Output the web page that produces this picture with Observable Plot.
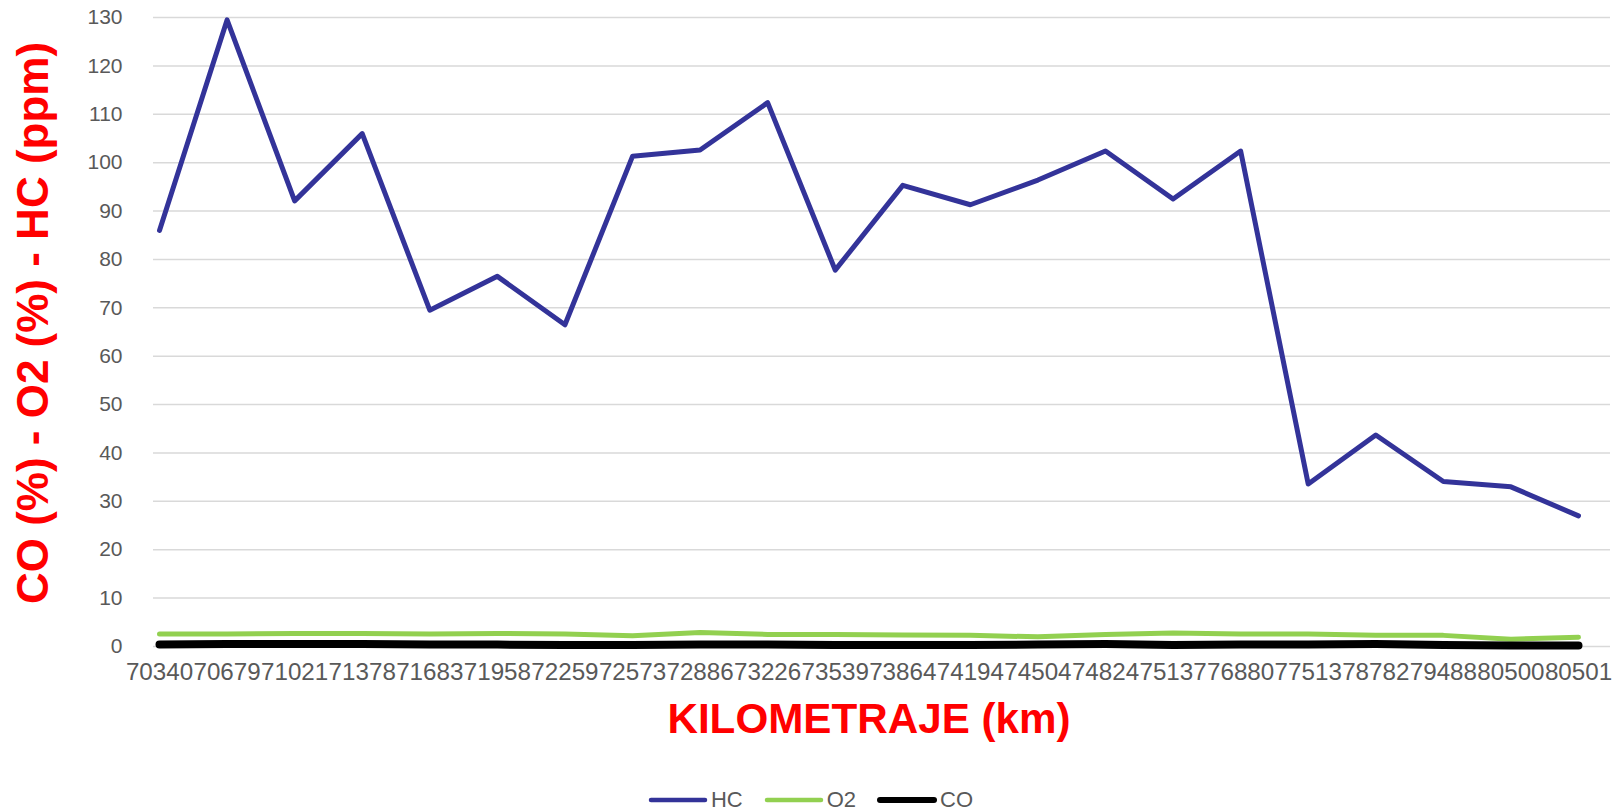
<!DOCTYPE html>
<html>
<head>
<meta charset="utf-8">
<script src="https://cdn.jsdelivr.net/npm/d3@7"></script>
<script src="https://cdn.jsdelivr.net/npm/@observablehq/plot@0.6"></script>
<style>
  html, body { margin: 0; padding: 0; background: #fff; }
  body { width: 1620px; height: 812px; position: relative; overflow: hidden; font-family: "Liberation Sans", Arial, sans-serif; }
  #legend { position: absolute; left: 0; top: 788px; width: 1620px; height: 24px; display: flex; justify-content: center; align-items: center; font-size: 22px; color: #595959; }
  .item { display: flex; align-items: center; margin: 0 10px; }
  .item svg { margin-right: 2px; }
</style>
</head>
<body>
<div id="chart"></div>
<div id="legend"></div>
<script>
const kms = ["70340","70679","71021","71378","71683","71958","72259","72573","72886","73226","73539","73864","74194","74504","74824","75137","76880","77513","78782","79488","80500","80501"];
const hcValues = [86.0,129.5,92.1,106.0,69.5,76.5,66.5,101.3,102.6,112.4,77.8,95.3,91.3,96.4,102.4,92.5,102.4,33.6,43.7,34.1,33.0,27.0];
const o2Values = [2.6,2.6,2.7,2.7,2.6,2.7,2.6,2.2,2.9,2.5,2.5,2.4,2.3,2.0,2.5,2.8,2.6,2.6,2.3,2.3,1.5,1.9];
const coValues = [0.4,0.5,0.5,0.5,0.4,0.4,0.3,0.3,0.4,0.4,0.3,0.3,0.3,0.4,0.5,0.3,0.4,0.4,0.5,0.3,0.2,0.2];
const yTicks = [0,10,20,30,40,50,60,70,80,90,100,110,120,130];
const seriesNames = ["HC","O2","CO"];
const seriesColors = ["#333399","#92D050","#000000"];
const seriesWidths = [5,5,8];
const xTitle = "KILOMETRAJE (km)";
const yTitle = "CO (%) - O2 (%) - HC (ppm)";

const rows = kms.map((k,i) => ({km:k, HC:hcValues[i], O2:o2Values[i], CO:coValues[i]}));

const lineOpts = {strokeLinejoin:"round", strokeLinecap:"round"};

const chart = Plot.plot({
  width: 1620,
  height: 760,
  marginLeft: 153,
  marginRight: 10,
  marginTop: 17,
  marginBottom: 114,
  style: {fontFamily: "'Liberation Sans', Arial, sans-serif", background: "#fff", color: "#595959"},
  x: {type: "point", domain: kms, padding: 0, round: false, insetLeft: 6, insetRight: 32, label: null},
  y: {domain: [0,130], label: null},
  marks: [
    Plot.ruleY(yTicks, {stroke: "#d9d9d9", strokeWidth: 1.5}),
    Plot.axisY(yTicks, {tickSize: 0, tickPadding: 31, fontSize: 21, label: null}),
    Plot.axisX({tickSize: 0, tickPadding: 16, fontSize: 24.2, label: null}),
    Plot.lineY(rows, {x: "km", y: "HC", stroke: seriesColors[0], strokeWidth: seriesWidths[0], ...lineOpts}),
    Plot.lineY(rows, {x: "km", y: "O2", stroke: seriesColors[1], strokeWidth: seriesWidths[1], ...lineOpts}),
    Plot.lineY(rows, {x: "km", y: "CO", stroke: seriesColors[2], strokeWidth: seriesWidths[2], ...lineOpts}),
    Plot.text([xTitle], {frameAnchor: "bottom", text: d => d, dx: -13, dy: 86, fontSize: 42.2, fontWeight: "bold", fill: "#ff0000"}),
    Plot.text([yTitle], {frameAnchor: "left", textAnchor: "middle", text: d => d, rotate: -90, dx: -120, dy: -9, fontSize: 44, fontWeight: "bold", fill: "#ff0000"})
  ]
});
document.getElementById("chart").appendChild(chart);

const legend = document.getElementById("legend");
seriesNames.forEach((name, i) => {
  const item = document.createElement("div");
  item.className = "item";
  item.innerHTML = `<svg width="62" height="12"><line x1="4" y1="6" x2="58" y2="6" stroke="${seriesColors[i]}" stroke-width="${i===2?6:4.5}" stroke-linecap="round"/></svg><span>${name}</span>`;
  legend.appendChild(item);
});
</script>
</body>
</html>
